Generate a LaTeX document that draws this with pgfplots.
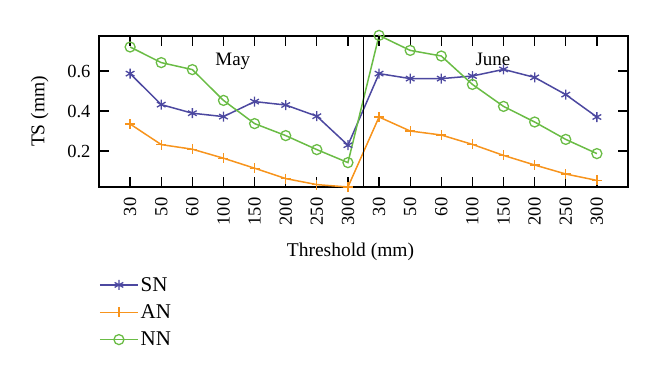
\documentclass[border=0pt]{standalone}
\usepackage{fontspec}
\setmainfont{Liberation Serif}
\usepackage{pgfplots}
\pgfplotsset{compat=1.18}
\definecolor{snc}{RGB}{76,72,160}
\definecolor{anc}{RGB}{247,148,29}
\definecolor{nnc}{RGB}{106,188,69}
\begin{document}
\begin{tikzpicture}
\path (-99pt,-191pt) rectangle (561pt,187pt);
\begin{axis}[
  at={(0pt,0pt)}, anchor=south west,
  scale only axis, width=529pt, height=151pt,
  xmin=-1, xmax=16, ymin=0.02, ymax=0.775,
  xtick={0,...,15},
  xticklabels={30,50,60,100,150,200,250,300,30,50,60,100,150,200,250,300},
  ytick={0.2,0.4,0.6},
  yticklabels={0.2,0.4,0.6},
  tick align=inside,
  major tick length=0pt,
  axis line style={black, line width=1.2pt},
  xticklabel style={rotate=90, anchor=east, xshift=-7pt, font=\fontsize{18.5}{18.5}\selectfont},
  yticklabel style={xshift=-5pt, font=\fontsize{18.5}{18.5}\selectfont},
  xlabel={Threshold (mm)},
  ylabel={TS (mm)},
  label style={font=\fontsize{19.5}{20}\selectfont},
  xlabel style={xshift=-13pt, yshift=-11pt},
  ylabel style={yshift=12pt},
  clip=false,
  legend style={at={(axis description cs:0,0)}, anchor=north west,
    yshift=-86pt, xshift=-3pt, draw=none, fill=none,
    font=\fontsize{21}{21}\selectfont, row sep=8pt},
  legend cell align=left,
  legend image code/.code={\draw[mark repeat=2,mark phase=2,#1] plot coordinates {(0pt,0pt) (19pt,0pt) (38pt,0pt)};},
]
\addplot[color=snc, line width=1.5pt, mark=asterisk, mark size=5pt, mark options={line width=1.3pt}] coordinates {
(0,0.587)(1,0.432)(2,0.389)(3,0.372)(4,0.447)(5,0.430)(6,0.374)(7,0.229)
(8,0.587)(9,0.562)(10,0.562)(11,0.575)(12,0.608)(13,0.568)(14,0.482)(15,0.370)};
\addlegendentry{SN}
\addplot[color=anc, line width=1.5pt, mark=+, mark size=5pt, mark options={line width=1.3pt}] coordinates {
(0,0.335)(1,0.232)(2,0.209)(3,0.164)(4,0.114)(5,0.062)(6,0.032)(7,0.020)
(8,0.370)(9,0.300)(10,0.280)(11,0.233)(12,0.178)(13,0.130)(14,0.085)(15,0.053)};
\addlegendentry{AN}
\addplot[color=nnc, line width=1.5pt, mark=o, mark size=5pt, mark options={line width=1.3pt}] coordinates {
(0,0.720)(1,0.642)(2,0.607)(3,0.453)(4,0.337)(5,0.277)(6,0.207)(7,0.142)
(8,0.778)(9,0.703)(10,0.675)(11,0.533)(12,0.423)(13,0.345)(14,0.258)(15,0.187)};
\addlegendentry{NN}
\pgfplotsinvokeforeach{0,...,15}{
  \draw[black, line width=1.3pt] (axis cs:#1,0.02) -- ++(0pt,10pt);
  \draw[black, line width=1.3pt] (axis cs:#1,0.775) -- ++(0pt,-10pt);
}
\pgfplotsinvokeforeach{0.2,0.4,0.6}{
  \draw[black, line width=1.3pt] (axis cs:-1,#1) -- ++(10pt,0pt);
  \draw[black, line width=1.3pt] (axis cs:16,#1) -- ++(-10pt,0pt);
}
\draw[black, line width=1.3pt] (axis cs:7.5,0.02) -- (axis cs:7.5,0.775);
\node[font=\fontsize{19}{19}\selectfont] at (axis cs:3.3,0.65) {May};
\node[font=\fontsize{19}{19}\selectfont] at (axis cs:11.66,0.66) {June};
\end{axis}
\end{tikzpicture}
\end{document}
